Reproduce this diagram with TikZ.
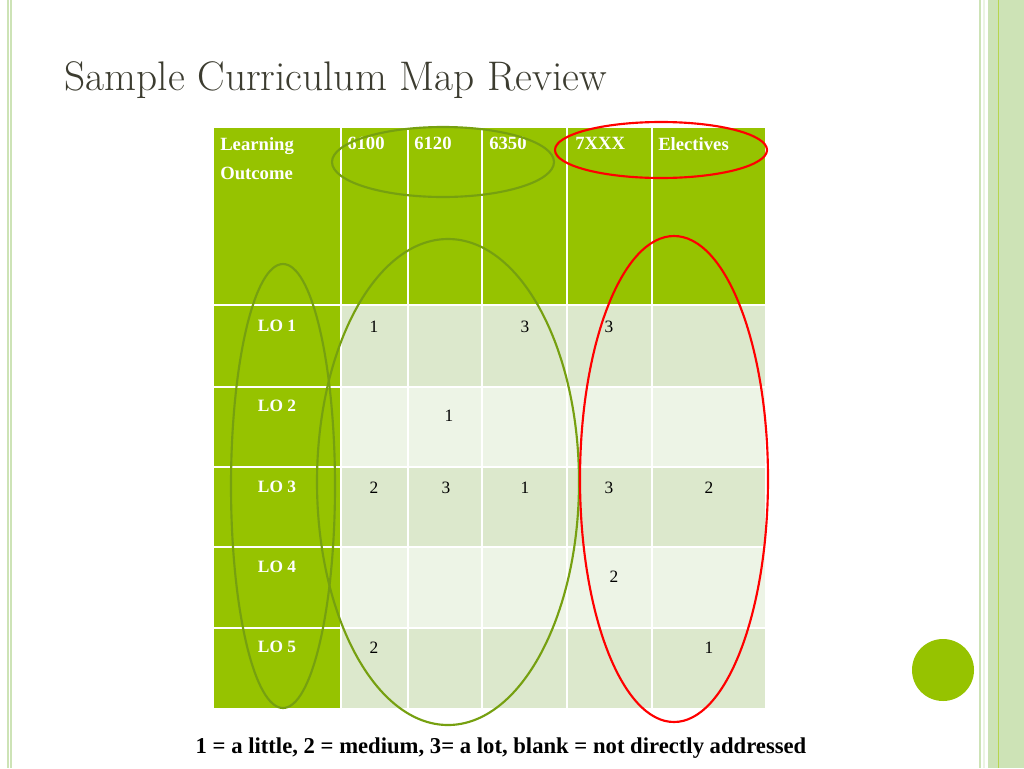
\documentclass[tikz,border=0pt]{standalone}
\usepackage{fontspec}
\setmainfont{Liberation Serif}
\newfontfamily\lmfont{Latin Modern Roman}
\definecolor{hdr}{HTML}{96C300}
\definecolor{rowa}{HTML}{DCE8CC}
\definecolor{rowb}{HTML}{EDF4E6}
\definecolor{olive}{HTML}{76A010}
\definecolor{band}{HTML}{CDE3B6}
\definecolor{ttl}{HTML}{3C3C30}
\begin{document}
\begin{tikzpicture}[x=0.75pt,y=-0.75pt,
  hd/.style={text=white,font=\bfseries\fontsize{14}{17}\selectfont,anchor=north west,inner sep=0pt},
  lo/.style={text=white,font=\bfseries\fontsize{13}{15}\selectfont,inner sep=0pt},
  num/.style={font=\fontsize{13}{15}\selectfont,inner sep=0pt},
  oval/.style={line width=1.6pt}]
\useasboundingbox (0,0) rectangle (1024,768);
\fill[white] (0,0) rectangle (1024,768);
% borders
\draw[band,line width=1pt] (8,0)--(8,768);
\draw[band,line width=1pt] (11,0)--(11,768);
\draw[band,line width=1pt] (980,0)--(980,768);
\fill[band] (988,0) rectangle (1024,768);
\draw[hdr!70,line width=0.6pt] (998,0)--(998,768);
\draw[white!60!band,line width=1pt] (984,0)--(984,768);
% title
\node[anchor=west,text=ttl,font=\lmfont\fontsize{31}{36}\selectfont] (title) at (60,80) {\textsc{Sample Curriculum Map Review}};
% table
\def\xs{{214,341,408,482,567,652,765}}
\def\ys{{128,305,387,467,547,628,708}}
\fill[hdr] (214,128) rectangle (765,305);
\foreach \r/\c in {0/rowa,1/rowb,2/rowa,3/rowb,4/rowa}{
  \pgfmathsetmacro\ya{\ys[\r+1]}\pgfmathsetmacro\yb{\ys[\r+2]}
  \fill[\c] (341,\ya) rectangle (765,\yb);
  \fill[hdr] (214,\ya) rectangle (341,\yb);
}
\foreach \x in {341,408,482,567,652}\draw[white,line width=1.2pt] (\x,128)--(\x,708);
\foreach \y in {305,387,467,547,628}\draw[white,line width=1.5pt] (214,\y)--(765,\y);
\draw[white,line width=2pt] (341,305)--(341,708);
% headers
\node[hd,align=left] (h0) at (220,137) {Learning\\[5pt]Outcome};
\node[hd] (h1) at (347,137) {6100};
\node[hd] (h2) at (414,137) {6120};
\node[hd] (h3) at (489,137) {6350};
\node[hd] (h4) at (575,137) {7XXX};
\node[hd] (h5) at (658,137) {Electives};
\foreach \i/\y in {1/326,2/406,3/487,4/567,5/647}\node[lo] (lo\i) at (277,\y) {LO \i};
\node[num] at (374,327) {1}; \node[num] at (525,327) {3}; \node[num] at (609,327) {3};
\node[num] at (449,416) {1};
\node[num] at (374,488) {2}; \node[num] at (446,488) {3}; \node[num] at (525,488) {1}; \node[num] at (609,488) {3}; \node[num] at (709,488) {2};
\node[num] at (614,577) {2};
\node[num] at (374,648) {2}; \node[num] at (709,648) {1};
% ovals
\draw[oval,olive] (443,162) ellipse [x radius=111,y radius=35];
\draw[oval,red] (661,150) ellipse [x radius=106,y radius=28];
\draw[oval,olive] (283,486) ellipse [x radius=52,y radius=222];
\draw[oval,olive] (448,482) ellipse [x radius=131,y radius=243];
\draw[oval,red] (674,479) ellipse [x radius=94,y radius=243];
\fill[hdr] (943,670) circle (31);
\node[font=\bfseries\fontsize{17}{20}\selectfont] (legend) at (501,748) {1 = a little, 2 = medium, 3= a lot, blank = not directly addressed};
\end{tikzpicture}
\end{document}
